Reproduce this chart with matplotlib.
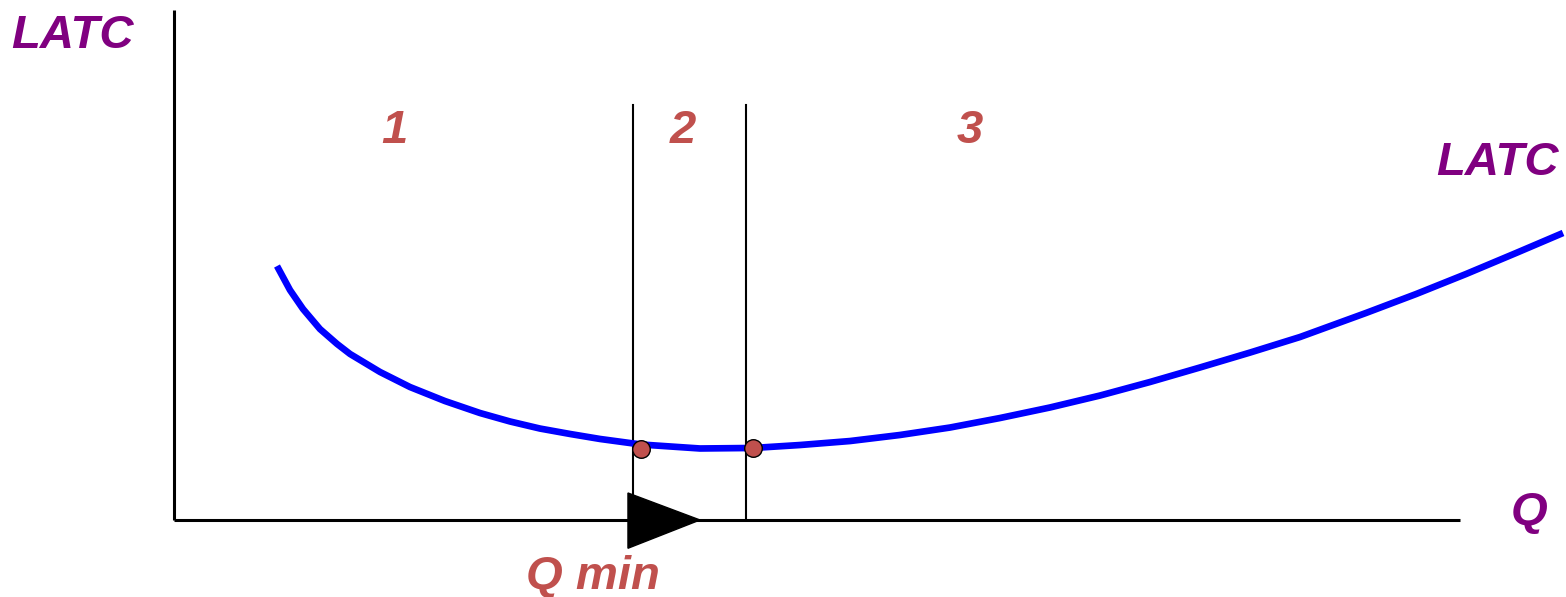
import numpy as np
import matplotlib
matplotlib.use('Agg')
import matplotlib.pyplot as plt

# long run average total cost curve (Q, cost)
q_vals = [8.01, 9.02, 10.03, 11.35, 12.68, 13.69, 16.02, 18.35, 21.07, 23.79,
          26.13, 28.46, 30.79, 33.13, 36.31, 40.90, 45.02, 48.68, 52.57, 56.45,
          60.34, 64.23, 68.12, 72.01, 75.89, 79.78, 83.67, 87.56, 92.69, 96.58,
          100.47, 104.35, 108.01]
latc_vals = [19.75, 17.88, 16.41, 14.85, 13.69, 12.91, 11.51, 10.34, 9.25, 8.32,
             7.66, 7.11, 6.69, 6.30, 5.87, 5.56, 5.60, 5.83, 6.14, 6.61,
             7.19, 7.93, 8.75, 9.68, 10.73, 11.86, 13.02, 14.23, 16.10, 17.57,
             19.13, 20.76, 22.32]

# points where the flat part of the curve starts and ends
dot_q = [36.3, 45.0]
dot_cost = [5.5, 5.6]

# borders of the three zones
zone_lines = [35.7, 44.5]
zone_top = 32.3
zone_labels = ['1', '2', '3']
zone_label_q = [17.1, 39.6, 61.9]

q_min = 35.3
q_axis_end = 100
cost_axis_end = 39.7

PURPLE = '#800080'
RED = '#c0504d'
FONT = 'Liberation Sans'

fig = plt.figure(figsize=(15.66, 5.97), dpi=100)
ax = fig.add_axes([0, 0, 1, 1])
ax.set_xlim(-13.53, 108.24)
ax.set_ylim(-5.99, 40.44)
ax.axis('off')

# axes
ax.plot([0, 0], [0, cost_axis_end], color='black', lw=2.2, solid_capstyle='butt')
ax.plot([0, q_axis_end], [0, 0], color='black', lw=2.2, solid_capstyle='butt')

# zone borders
for x in zone_lines:
    ax.plot([x, x], [0, zone_top], color='black', lw=1.5)

# curve
ax.plot(q_vals, latc_vals, color='#0000ff', lw=4.8, solid_capstyle='butt',
        solid_joinstyle='round', zorder=3)
ax.scatter(dot_q, dot_cost, s=160, color=RED, edgecolors='black', linewidths=1.0, zorder=4)

# arrow marking Q min
tri = plt.Polygon([[q_min, 2.1], [q_min, -2.2], [q_min + 5.6, 0]], closed=True,
                  color='black', zorder=5)
ax.add_patch(tri)

txt = dict(fontsize=34, fontweight='bold', fontstyle='italic', family=FONT)
ax.text(-7.9, 36.7, 'LATC', color=PURPLE, ha='center', va='baseline', **txt)
ax.text(102.9, 26.8, 'LATC', color=PURPLE, ha='center', va='baseline', **txt)
ax.text(105.4, -0.4, 'Q', color=PURPLE, ha='center', va='baseline', **txt)
ax.text(32.6, -5.4, 'Q min', color=RED, ha='center', va='baseline', **txt)
for lab, x in zip(zone_labels, zone_label_q):
    ax.text(x, 29.3, lab, color=RED, ha='center', va='baseline', **txt)

fig.savefig('out.png', dpi=100)
